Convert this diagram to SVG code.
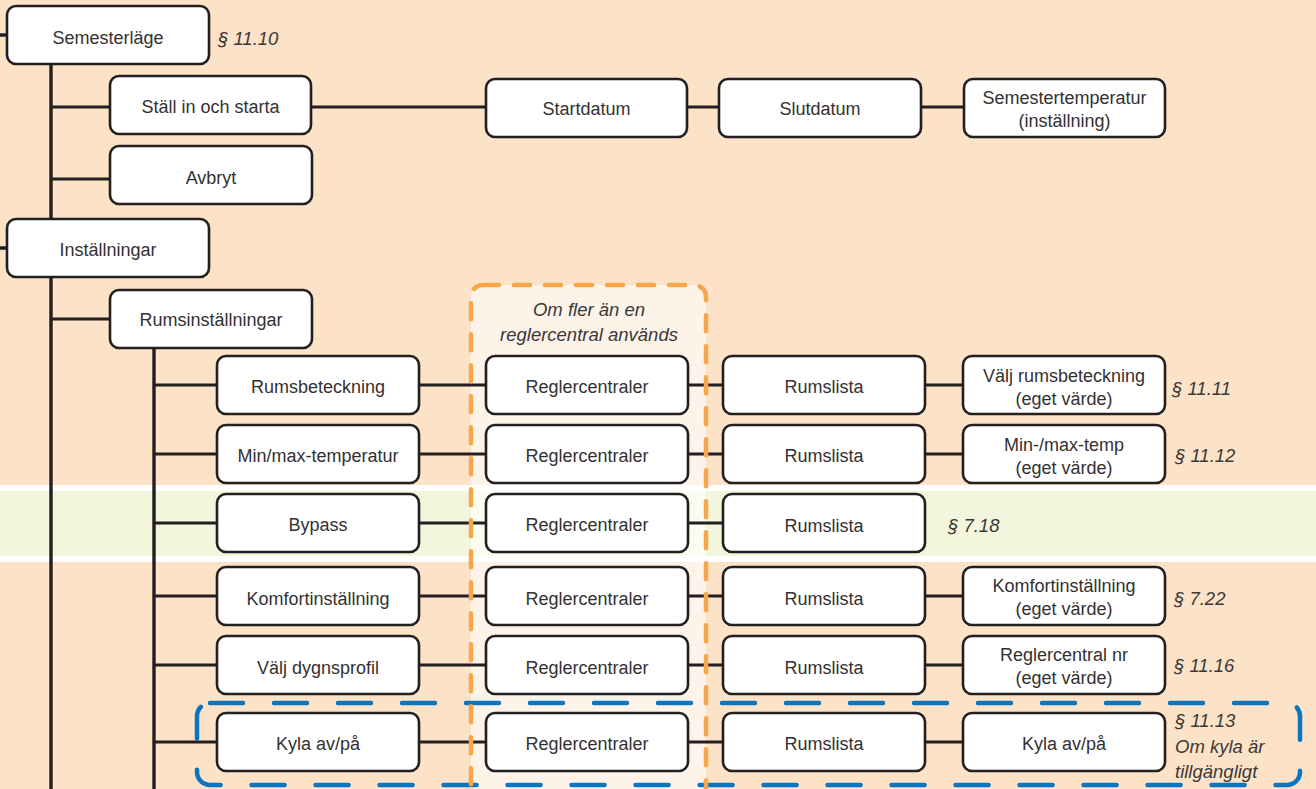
<svg xmlns="http://www.w3.org/2000/svg" width="1316" height="789" viewBox="0 0 1316 789">
<defs>
<style>
.bg{fill:#FCE2C7}
.green{fill:#F3F5DC}
.band{fill:#FFFFFF}
.box{fill:#FFFFFF;stroke:#231F20;stroke-width:2.6}
.t{font-family:"Liberation Sans",Arial,sans-serif;font-size:18px;fill:#333132;text-anchor:middle}
.ref{font-family:"Liberation Sans",Arial,sans-serif;font-size:18.5px;font-style:italic;fill:#3A3839}
.trunk{stroke:#231F20;stroke-width:3.4;fill:none}
.conn{stroke:#231F20;stroke-width:3;fill:none}
.orange{fill:none;stroke:#F8A64A;stroke-width:4.5;stroke-dasharray:16 15;stroke-linecap:round}
.blue{fill:none;stroke:#0B75BF;stroke-width:4.5;stroke-dasharray:33 31;stroke-linecap:round}
</style>
</defs>
<rect class="bg" x="0" y="0" width="1316" height="789"/>
<rect class="band" x="0" y="485" width="1316" height="77"/>
<rect class="green" x="0" y="491" width="1316" height="65"/>
<rect x="471" y="285" width="235" height="540" rx="12" fill="#FFFFFF" fill-opacity="0.6"/>

<g id="connectors">
<path class="trunk" d="M0 35H7M0 248H7M51 64V219M51 277V789M154 348V789"/>
<path class="conn" d="M51 107H110M51 179H110M51 319H110"/>
<path class="conn" d="M311 107H486M687 107H719M921 107H964"/>
<path class="conn" d="M154 385H217M419 385H486M688 385H723M925 385H963"/>
<path class="conn" d="M154 454H217M419 454H486M688 454H723M925 454H963"/>
<path class="conn" d="M154 523H217M419 523H486M688 523H723"/>
<path class="conn" d="M154 596H217M419 596H486M688 596H723M925 596H963"/>
<path class="conn" d="M154 665H217M419 665H486M688 665H723M925 665H963"/>
<path class="conn" d="M154 742H217M419 742H486M688 742H723M925 742H963"/>
</g>

<g id="n-semesterlage"><rect class="box" x="7" y="6" width="202" height="58" rx="9"/><text class="t" x="108" y="44">Semesterläge</text></g>
<text class="ref" x="218" y="45">§ 11.10</text>
<g id="n-stall"><rect class="box" x="110" y="76" width="201" height="58" rx="9"/><text class="t" x="210.5" y="113">Ställ in och starta</text></g>
<g id="n-avbryt"><rect class="box" x="110" y="146" width="202" height="58" rx="9"/><text class="t" x="211" y="184">Avbryt</text></g>
<g id="n-startdatum"><rect class="box" x="486" y="79" width="201" height="58" rx="9"/><text class="t" x="586.5" y="115">Startdatum</text></g>
<g id="n-slutdatum"><rect class="box" x="719" y="79" width="202" height="58" rx="9"/><text class="t" x="820" y="115">Slutdatum</text></g>
<g id="n-semtemp"><rect class="box" x="964" y="79" width="201" height="58" rx="9"/><text class="t" x="1064.5" y="104">Semestertemperatur</text><text class="t" x="1064.5" y="127">(inställning)</text></g>

<g id="n-installningar"><rect class="box" x="7" y="219" width="202" height="58" rx="9"/><text class="t" x="108" y="256">Inställningar</text></g>
<g id="n-rumsinst"><rect class="box" x="110" y="290" width="202" height="58" rx="9"/><text class="t" x="211" y="326">Rumsinställningar</text></g>

<text class="ref" x="589" y="316" text-anchor="middle">Om fler än en</text>
<text class="ref" x="589" y="341" text-anchor="middle">reglercentral används</text>

<g id="n-rumsbet"><rect class="box" x="217" y="356" width="202" height="58" rx="9"/><text class="t" x="318" y="393">Rumsbeteckning</text></g>
<g id="n-rc1"><rect class="box" x="486" y="356" width="202" height="58" rx="9"/><text class="t" x="587" y="393">Reglercentraler</text></g>
<g id="n-rl1"><rect class="box" x="723" y="356" width="202" height="58" rx="9"/><text class="t" x="824" y="393">Rumslista</text></g>
<g id="n-valjrums"><rect class="box" x="963" y="356" width="202" height="58" rx="9"/><text class="t" x="1064" y="382">Välj rumsbeteckning</text><text class="t" x="1064" y="405">(eget värde)</text></g>
<text class="ref" x="1172" y="395">§ 11.11</text>

<g id="n-minmax"><rect class="box" x="217" y="425" width="202" height="58" rx="9"/><text class="t" x="318" y="462">Min/max-temperatur</text></g>
<g id="n-rc2"><rect class="box" x="486" y="425" width="202" height="58" rx="9"/><text class="t" x="587" y="462">Reglercentraler</text></g>
<g id="n-rl2"><rect class="box" x="723" y="425" width="202" height="58" rx="9"/><text class="t" x="824" y="462">Rumslista</text></g>
<g id="n-minmaxtemp"><rect class="box" x="963" y="425" width="202" height="58" rx="9"/><text class="t" x="1064" y="451">Min-/max-temp</text><text class="t" x="1064" y="474">(eget värde)</text></g>
<text class="ref" x="1175" y="462">§ 11.12</text>

<g id="n-bypass"><rect class="box" x="217" y="494" width="202" height="58" rx="9"/><text class="t" x="318" y="531">Bypass</text></g>
<g id="n-rc3"><rect class="box" x="486" y="494" width="202" height="58" rx="9"/><text class="t" x="587" y="531">Reglercentraler</text></g>
<g id="n-rl3"><rect class="box" x="723" y="494" width="202" height="58" rx="9"/><text class="t" x="824" y="532">Rumslista</text></g>
<text class="ref" x="948" y="532">§ 7.18</text>

<g id="n-komfort"><rect class="box" x="217" y="567" width="202" height="58" rx="9"/><text class="t" x="318" y="605">Komfortinställning</text></g>
<g id="n-rc4"><rect class="box" x="486" y="567" width="202" height="58" rx="9"/><text class="t" x="587" y="605">Reglercentraler</text></g>
<g id="n-rl4"><rect class="box" x="723" y="567" width="202" height="58" rx="9"/><text class="t" x="824" y="605">Rumslista</text></g>
<g id="n-komfortval"><rect class="box" x="963" y="567" width="202" height="58" rx="9"/><text class="t" x="1064" y="592">Komfortinställning</text><text class="t" x="1064" y="615">(eget värde)</text></g>
<text class="ref" x="1174" y="605">§ 7.22</text>

<g id="n-dygn"><rect class="box" x="217" y="636" width="202" height="58" rx="9"/><text class="t" x="318" y="674">Välj dygnsprofil</text></g>
<g id="n-rc5"><rect class="box" x="486" y="636" width="202" height="58" rx="9"/><text class="t" x="587" y="674">Reglercentraler</text></g>
<g id="n-rl5"><rect class="box" x="723" y="636" width="202" height="58" rx="9"/><text class="t" x="824" y="674">Rumslista</text></g>
<g id="n-rcnr"><rect class="box" x="963" y="636" width="202" height="58" rx="9"/><text class="t" x="1064" y="661">Reglercentral nr</text><text class="t" x="1064" y="684">(eget värde)</text></g>
<text class="ref" x="1174" y="672">§ 11.16</text>

<g id="n-kyla"><rect class="box" x="217" y="713" width="202" height="58" rx="9"/><text class="t" x="318" y="750">Kyla av/på</text></g>
<g id="n-rc6"><rect class="box" x="486" y="713" width="202" height="58" rx="9"/><text class="t" x="587" y="750">Reglercentraler</text></g>
<g id="n-rl6"><rect class="box" x="723" y="713" width="202" height="58" rx="9"/><text class="t" x="824" y="750">Rumslista</text></g>
<g id="n-kyla2"><rect class="box" x="963" y="713" width="202" height="58" rx="9"/><text class="t" x="1064" y="750">Kyla av/på</text></g>
<text class="ref" x="1175" y="727">§ 11.13</text>
<text class="ref" x="1175" y="753">Om kyla är</text>
<text class="ref" x="1175" y="778">tillgängligt</text>

<rect class="blue" x="197" y="703" width="1103" height="82" rx="13"/>
<rect class="orange" x="471" y="285" width="235" height="540" rx="12"/>
</svg>
